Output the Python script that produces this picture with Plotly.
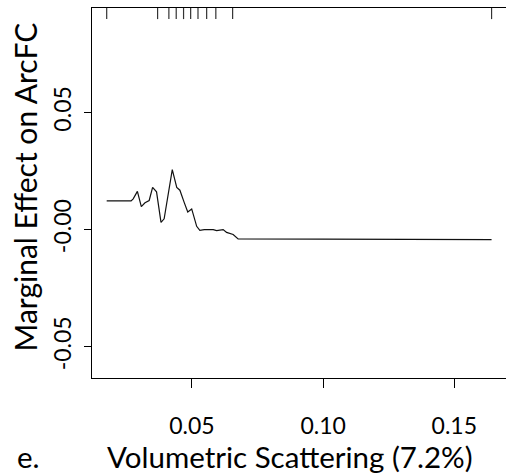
import plotly.graph_objects as go

# Partial dependence curve
x_vals = [0.0175, 0.0268, 0.0276, 0.0292, 0.0307, 0.0321, 0.0337, 0.0350, 0.0365,
          0.0382, 0.0394, 0.0425, 0.0442, 0.0454, 0.0471, 0.0484, 0.0499, 0.0518,
          0.0530, 0.0547, 0.0581, 0.0594, 0.0619, 0.0632, 0.0657, 0.0676, 0.1642]
y_vals = [0.0122, 0.0122, 0.0131, 0.0163, 0.0098, 0.0114, 0.0124, 0.0180, 0.0161,
          0.0031, 0.0046, 0.0256, 0.0180, 0.0168, 0.0114, 0.0075, 0.0088, 0.0014,
          -0.0003, 0.0000, 0.0000, -0.0004, 0.0000, -0.0012, -0.0021, -0.0040, -0.0043]

# Decile rug
rug_x = [0.0175, 0.0369, 0.0412, 0.0440, 0.0468, 0.0495, 0.0523, 0.0556, 0.0591, 0.0655, 0.1642]

x_ticks = [0.05, 0.10, 0.15]
x_ticktext = ["0.05", "0.10", "0.15"]
y_ticks = [-0.05, 0.0, 0.05]
y_ticktext = ["-0.05", "-0.00", "0.05"]

x_title = "Volumetric Scattering (7.2%)"
y_title = "Marginal Effect on ArcFC"
panel = "e."

FONT = "Lato"

fig = go.Figure()
fig.add_trace(go.Scatter(x=x_vals, y=y_vals, mode="lines",
                         line=dict(color="#111111", width=1.2), showlegend=False,
                         hoverinfo="skip"))

rx, ry = [], []
for r in rug_x:
    rx += [r, r, None]
    ry += [1.0, 0.97, None]
fig.add_trace(go.Scatter(x=rx, y=ry, yaxis="y2", mode="lines",
                         line=dict(color="#333333", width=1.2), showlegend=False,
                         hoverinfo="skip"))

fig.update_layout(
    width=506, height=476,
    margin=dict(l=92, r=0, t=8, b=98),
    paper_bgcolor="white", plot_bgcolor="white",
    font=dict(family=FONT, color="black"),
    xaxis=dict(range=[0.0119, 0.1697], tickvals=x_ticks, ticktext=x_ticktext,
               showgrid=False, zeroline=False, showline=True, mirror=True,
               linecolor="black", linewidth=1, ticks="outside", ticklen=9,
               tickcolor="black", tickfont=dict(size=23, family=FONT),
               ticklabelstandoff=18),
    yaxis=dict(range=[-0.0633, 0.0945], tickvals=y_ticks, ticktext=y_ticktext,
               showgrid=False, zeroline=False, showline=True, mirror=False,
               linecolor="black", linewidth=1, ticks="outside", ticklen=7,
               tickcolor="black", tickangle=-90, tickfont=dict(size=23, family=FONT),
               ticklabelstandoff=4),
    yaxis2=dict(range=[0, 1], overlaying="y", visible=False, fixedrange=True),
    annotations=[
        dict(text=x_title, xref="paper", yref="paper", x=(289.5 - 92) / 414, y=-(456 - 378) / 370,
             xanchor="center", yanchor="middle", showarrow=False, font=dict(size=29.5, family=FONT)),
        dict(text=panel, xref="paper", yref="paper", x=(29 - 92) / 414, y=-(456 - 378) / 370,
             xanchor="center", yanchor="middle", showarrow=False, font=dict(size=29.5, family=FONT)),
        dict(text=y_title, xref="paper", yref="paper", x=(24 - 92) / 414, y=(378 - 187.5) / 370,
             xanchor="center", yanchor="middle", textangle=-90, showarrow=False,
             font=dict(size=30, family=FONT)),
    ],
)

fig.write_html("out.html")
